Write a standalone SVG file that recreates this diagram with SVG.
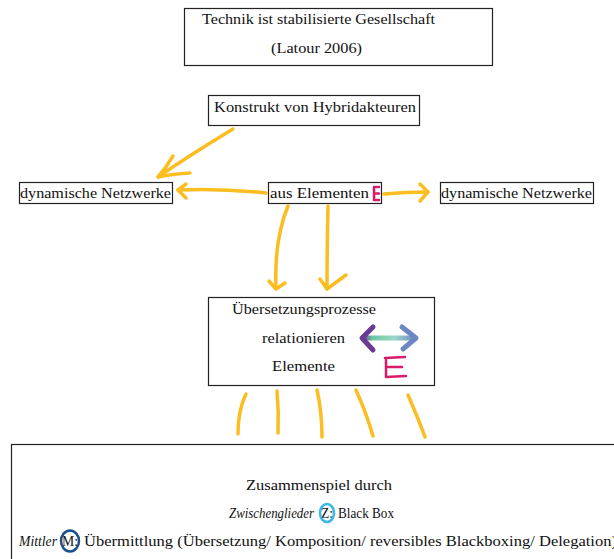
<svg xmlns="http://www.w3.org/2000/svg" width="614" height="559" viewBox="0 0 614 559">
<defs>
<style>
.box{fill:#fff;stroke:#222;stroke-width:1.2}
.t{font-size:15px;fill:#111}
.i{font-style:italic}
.y{fill:none;stroke:#fbbd1f;stroke-width:3.5;stroke-linecap:round;stroke-linejoin:round}
.mag{fill:none;stroke:#d81b6a;stroke-width:2.5;stroke-linecap:round;stroke-linejoin:round}
</style>
<linearGradient id="g" gradientUnits="userSpaceOnUse" x1="362" y1="338" x2="416" y2="338">
<stop offset="0" stop-color="#6a3a94"/>
<stop offset="0.2" stop-color="#6fc9a0"/>
<stop offset="0.6" stop-color="#9bd9c5"/>
<stop offset="1" stop-color="#6f86c4"/>
</linearGradient>
</defs>
<rect width="614" height="559" fill="#fff"/>

<g font-family="'Liberation Serif', 'Times New Roman', serif">
<g id="n-technik">
<rect class="box" x="184.5" y="8.5" width="308" height="57"/>
<text class="t" x="202" y="24" textLength="233" lengthAdjust="spacingAndGlyphs">Technik ist stabilisierte Gesellschaft</text>
<text class="t" x="271" y="53" textLength="91" lengthAdjust="spacingAndGlyphs">(Latour 2006)</text>
</g>

<g id="n-konstrukt">
<rect class="box" x="208.5" y="95.5" width="211" height="30"/>
<text class="t" x="214" y="112" textLength="202" lengthAdjust="spacingAndGlyphs">Konstrukt von Hybridakteuren</text>
</g>

<g id="n-netz-left">
<rect class="box" x="19.5" y="182.5" width="153" height="21"/>
<text class="t" x="20" y="198" textLength="151" lengthAdjust="spacingAndGlyphs">dynamische Netzwerke</text>
</g>

<g id="n-elemente">
<rect class="box" x="268.5" y="182.5" width="113" height="21"/>
<text class="t" x="270" y="198" textLength="99" lengthAdjust="spacingAndGlyphs">aus Elementen</text>
<path class="mag" stroke-width="1.8" d="M379,187 L374,187 L374,200 L379,200 M374,193.5 L379,193.5"/>
</g>

<g id="n-netz-right">
<rect class="box" x="440.5" y="182.5" width="153" height="21"/>
<text class="t" x="441" y="198" textLength="151" lengthAdjust="spacingAndGlyphs">dynamische Netzwerke</text>
</g>

<g id="n-uebersetzung">
<rect class="box" x="208.5" y="297.5" width="226" height="88"/>
<text class="t" x="232" y="314" textLength="144" lengthAdjust="spacingAndGlyphs">Übersetzungsprozesse</text>
<text class="t" x="262" y="343" textLength="83" lengthAdjust="spacingAndGlyphs">relationieren</text>
<text class="t" x="272" y="371" textLength="63" lengthAdjust="spacingAndGlyphs">Elemente</text>
<path d="M364,338 L413,338" fill="none" stroke="url(#g)" stroke-width="5" stroke-linecap="round"/>
<path d="M373,327 L362,338 L373,350" fill="none" stroke="#6a3a94" stroke-width="5" stroke-linecap="round" stroke-linejoin="round"/>
<path d="M402,327 L416,338 L403,349" fill="none" stroke="#6f86c4" stroke-width="5" stroke-linecap="round" stroke-linejoin="round"/>
<path class="mag" stroke-width="3" d="M386,358 L386,377 M385,358 L405,357 M386,367 L402,367 M386,377 L406,376"/>
</g>

<g id="n-zusammenspiel">
<rect class="box" x="11.5" y="444.5" width="620" height="130"/>
<text class="t" x="246" y="490" textLength="146" lengthAdjust="spacingAndGlyphs">Zusammenspiel durch</text>
<text class="t i" x="229" y="518" textLength="85" lengthAdjust="spacingAndGlyphs">Zwischenglieder</text>
<text class="t" x="321" y="518" textLength="12" lengthAdjust="spacingAndGlyphs">Z:</text>
<text class="t" x="338" y="518" textLength="56" lengthAdjust="spacingAndGlyphs">Black Box</text>
<ellipse cx="327" cy="513" rx="7" ry="9" fill="none" stroke="#3bb8e8" stroke-width="2.5"/>
<text class="t i" x="19" y="546" textLength="38" lengthAdjust="spacingAndGlyphs">Mittler</text>
<text class="t" x="62" y="546" textLength="16" lengthAdjust="spacingAndGlyphs">M:</text>
<text class="t" x="84" y="546" textLength="533" lengthAdjust="spacingAndGlyphs">Übermittlung (Übersetzung/ Komposition/ reversibles Blackboxing/ Delegation)</text>
<ellipse cx="70" cy="541" rx="9" ry="10.5" fill="none" stroke="#1d4f8c" stroke-width="2.5"/>
</g>
</g>

<g id="connectors">
<path class="y" d="M233,129 Q190,155 158,177"/>
<path class="y" d="M173,156 Q166,168 158,177 Q172,174 190,173"/>
<path class="y" d="M266,193 Q220,188 178,190"/>
<path class="y" d="M186,184 L178,190 L186,198"/>
<path class="y" d="M384,194 Q405,192 428,192"/>
<path class="y" d="M420,184 L428,192 L420,201"/>
<path class="y" d="M288,206 Q274,240 276,288"/>
<path class="y" d="M269,281 L276,289 L285,283"/>
<path class="y" d="M328,206 Q327,250 327,289"/>
<path class="y" d="M320,279 L327,289 L346,275"/>
<path class="y" d="M246,394 Q238,410 238,434"/>
<path class="y" d="M277,391 Q279,412 278,433"/>
<path class="y" d="M317,390 Q322,412 322,437"/>
<path class="y" d="M356,390 Q366,412 373,436"/>
<path class="y" d="M408,395 Q418,418 425,437"/>
</g>
</svg>
